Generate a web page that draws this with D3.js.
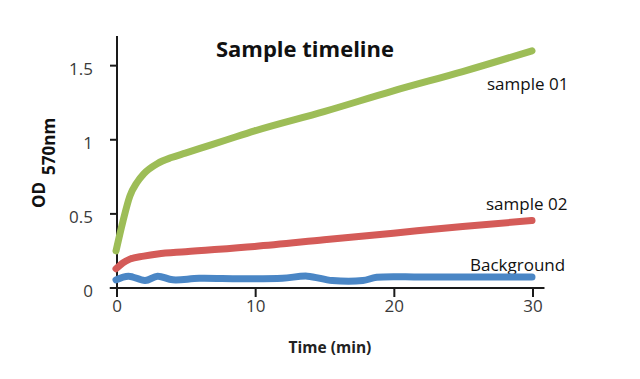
<!DOCTYPE html>
<html>
<head>
<meta charset="utf-8">
<script src="https://cdn.jsdelivr.net/npm/d3@7"></script>
<style>
  html, body { margin: 0; padding: 0; background: #fff; }
  svg { display: block; }
</style>
</head>
<body>
<svg id="chart" width="640" height="379"></svg>
<script>
// ---- data ----
const sample01Time = [0, 0.5, 1, 1.5, 2, 3, 4, 5, 6, 8, 10, 15, 20, 25, 30];
const sample01OD   = [0.25, 0.45, 0.62, 0.71, 0.77, 0.84, 0.88, 0.91, 0.94, 1.0, 1.06, 1.19, 1.33, 1.46, 1.6];

const sample02Time = [0, 0.5, 1, 2, 3, 5, 10, 15, 20, 25, 30];
const sample02OD   = [0.13, 0.17, 0.195, 0.215, 0.23, 0.245, 0.28, 0.325, 0.37, 0.415, 0.455];

const backgroundTime = [0, 0.9, 2.1, 3, 4.1, 6, 9, 12, 13.8, 15.6, 17.8, 18.8, 22, 26, 30];
const backgroundOD   = [0.055, 0.08, 0.05, 0.08, 0.055, 0.065, 0.062, 0.066, 0.08, 0.05, 0.05, 0.072, 0.074, 0.074, 0.074];

const xTicks = [0, 10, 20, 30];
const yTicks = [0, 0.5, 1, 1.5];
const yTickLabels = ["0", "0.5", "1", "1.5"];
const seriesNames = ["sample 01", "sample 02", "Background"];

const titleText = "Sample timeline";
const xTitle = "Time (min)";

// ---- layout ----
const svg = d3.select("#chart");
const x = d3.scaleLinear().domain([0, 30]).range([116, 532]);
const y = d3.scaleLinear().domain([0, 1.7]).range([288, 36]);

const font = "'Open Sans', sans-serif";

// title
svg.append("text")
  .attr("x", 305).attr("y", 57)
  .attr("text-anchor", "middle")
  .attr("font-family", font).attr("font-weight", "bold")
  .attr("font-size", 22).attr("fill", "#111")
  .text(titleText);

// series labels (drawn under lines)
const labelPos = [
  {name: seriesNames[0], x: 487, y: 90},
  {name: seriesNames[1], x: 486, y: 210},
  {name: seriesNames[2], x: 470, y: 271}
];
svg.selectAll(".slabel").data(labelPos).enter().append("text")
  .attr("class", "slabel")
  .attr("x", d => d.x).attr("y", d => d.y)
  .attr("font-family", font).attr("font-size", 17).attr("fill", "#111")
  .text(d => d.name);

// axes
const axisColor = "#1a1a1a";
// y axis line
svg.append("line")
  .attr("x1", x(0) + 1).attr("x2", x(0) + 1)
  .attr("y1", y(1.7)).attr("y2", y(-0.03))
  .attr("stroke", axisColor).attr("stroke-width", 2);
// x axis line
svg.append("line")
  .attr("x1", x(-0.45)).attr("x2", x(30.9))
  .attr("y1", y(0)).attr("y2", y(0))
  .attr("stroke", axisColor).attr("stroke-width", 2);

// y ticks
svg.selectAll(".ytick").data(yTicks).enter().append("line")
  .attr("x1", x(0) - 6).attr("x2", x(0) + 1)
  .attr("y1", d => y(d)).attr("y2", d => y(d))
  .attr("stroke", axisColor).attr("stroke-width", 2);
svg.selectAll(".ylab").data(yTicks).enter().append("text")
  .attr("x", 93).attr("y", d => y(d) + 9)
  .attr("text-anchor", "end")
  .attr("font-family", font).attr("font-size", 17).attr("fill", "#3a3a3a")
  .text((d, i) => yTickLabels[i]);

// x ticks
svg.selectAll(".xtick").data(xTicks).enter().append("line")
  .attr("x1", d => x(d) + 1).attr("x2", d => x(d) + 1)
  .attr("y1", y(0)).attr("y2", y(0) + 9)
  .attr("stroke", axisColor).attr("stroke-width", 2);
svg.selectAll(".xlab").data(xTicks).enter().append("text")
  .attr("x", d => x(d) + 1).attr("y", 312)
  .attr("text-anchor", "middle")
  .attr("font-family", font).attr("font-size", 17).attr("fill", "#3a3a3a")
  .text(d => d);

// x title
svg.append("text")
  .attr("x", 330).attr("y", 353)
  .attr("text-anchor", "middle")
  .attr("font-family", font).attr("font-weight", "bold")
  .attr("font-size", 15.5).attr("fill", "#222")
  .text(xTitle);

// y title
const yt = svg.append("text")
  .attr("transform", "translate(45,208) rotate(-90)")
  .attr("font-family", font).attr("font-weight", "bold")
  .attr("font-size", 17).attr("fill", "#111");
yt.append("tspan").text("OD");
yt.append("tspan").attr("dx", 7).attr("dy", 10).text("570nm");

// lines
const series = [
  {t: backgroundTime, v: backgroundOD, color: "#4a86c5", width: 7, curve: d3.curveCatmullRom},
  {t: sample02Time, v: sample02OD, color: "#d45b58", width: 7, curve: d3.curveMonotoneX},
  {t: sample01Time, v: sample01OD, color: "#9dbd57", width: 7, curve: d3.curveMonotoneX}
];
series.forEach(s => {
  const pts = s.t.map((t, i) => [t, s.v[i]]);
  const line = d3.line().x(d => x(d[0])).y(d => y(d[1])).curve(s.curve);
  svg.append("path")
    .attr("d", line(pts))
    .attr("fill", "none")
    .attr("stroke", s.color)
    .attr("stroke-width", s.width)
    .attr("stroke-linecap", "round")
    .attr("stroke-linejoin", "round");
});
</script>
</body>
</html>
